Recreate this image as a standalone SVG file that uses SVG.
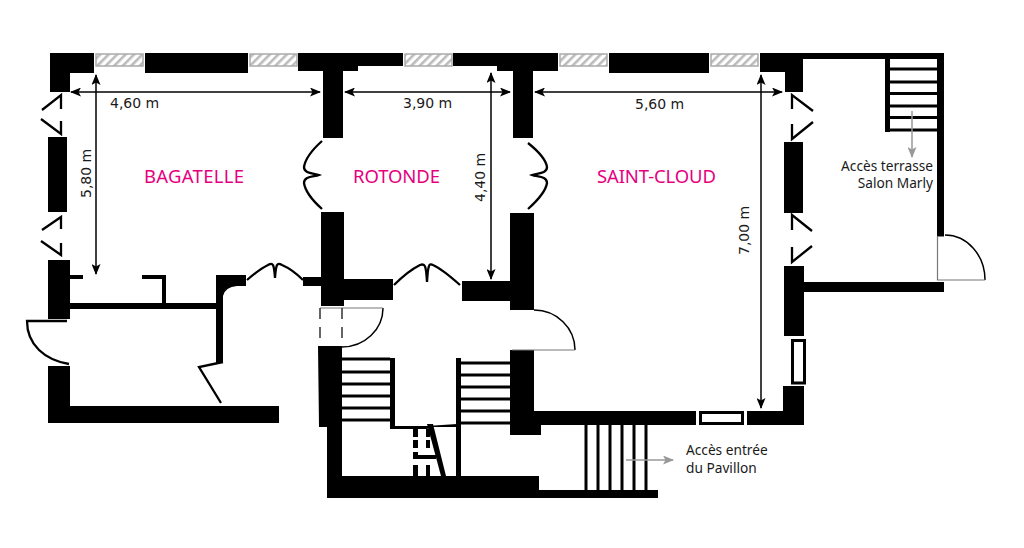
<svg xmlns="http://www.w3.org/2000/svg" width="1024" height="548" viewBox="0 0 1024 548">
<style>
.dim{font:14px "DejaVu Sans",sans-serif;fill:#1a1a1a}
.room{font:18.500px "Noto Sans",sans-serif;fill:#e6007e}
.note{font:13.700px "Noto Sans",sans-serif;fill:#1a1a1a}
.win{fill:url(#hatch);stroke:#aaa;stroke-width:1.5}
.box{fill:#fff;stroke:#000;stroke-width:3}
.ln{fill:none;stroke:#000;stroke-width:2.300}
.door{fill:none;stroke:#000;stroke-width:1.500}
.sill{fill:none;stroke:#777;stroke-width:1.200}
.d{fill:none;stroke:#000;stroke-width:1.500;marker-start:url(#a);marker-end:url(#a)}
.g{fill:none;stroke:#999;stroke-width:1.500;marker-end:url(#ga)}
</style>
<defs>
<pattern id="hatch" width="6" height="6" patternUnits="userSpaceOnUse" patternTransform="rotate(45)"><rect width="6" height="6" fill="#fff"/><rect width="2.600" height="6" fill="#bbb"/></pattern>
<marker id="a" viewBox="0 0 11 9" refX="10" refY="4.500" markerWidth="11" markerHeight="9" markerUnits="userSpaceOnUse" orient="auto-start-reverse"><path d="M11 4.500L0 0L2.500 4.500L0 9Z" fill="#000"/></marker>
<marker id="ga" viewBox="0 0 11 9" refX="10" refY="4.500" markerWidth="11" markerHeight="9" markerUnits="userSpaceOnUse" orient="auto"><path d="M11 4.500L0 0L2.500 4.500L0 9Z" fill="#999"/></marker>
</defs>
<rect width="1024" height="548" fill="#fff"/>
<g id="walls" fill="#000">
<path d="M50 53H94V73H70V92H50Z"/>
<rect x="145" y="53" width="103" height="20"/>
<path d="M298 53H403V66H358V71H343V138H323V71H298Z"/>
<path d="M453 53H558V71H533V138H513V71H497V66H453Z"/>
<rect x="609" y="53" width="100" height="20"/>
<path d="M760 53H944V236.500H937V59H803V92H785V72H760Z"/>
<rect x="48" y="137" width="19" height="75"/>
<path d="M48 260H70V275H83V279H70V303H162V279H142V275H166V303H216V275H246V286H237Q225 287 223 296V363H216V309H70V319H48Z"/>
<path d="M48 366H70V406H279V423H48Z"/>
<path d="M321 212H344V279H393V300H344V306H321V286H303V277H321Z"/>
<path d="M510 213H534V310H510V301H462V281H510Z"/>
<path d="M510 350H534V411H696V425H541V435H510Z"/>
<rect x="784" y="142" width="19" height="71"/>
<path d="M784 266H804V282H944V292H804V336H784Z"/>
<path d="M783 386H804V425H747V411H783Z"/>
<path d="M318 346H342V476H539V490H658V498H327V427H319Z"/>
<rect x="390" y="358" width="5" height="71"/>
<path d="M395 426H427L457 424V427H432L427 429H395Z"/>
<rect x="456" y="358" width="5" height="118"/>
<path d="M427 424H433L446 476H441Z"/>
<path d="M413 429H418V437H413ZM426 429H430V437H426ZM413 440H418V448H413ZM426 440H430V448H426ZM413 452H418V455H436V459H413ZM413 465H418V476H413ZM426 465H430V476H426Z"/>
</g>
<g id="stairs" fill="#000">
<path d="M342 357.500h48v3h-48zM342 370.500h48v3h-48zM342 382.500h48v3h-48zM342 394.500h48v3h-48zM342 406.500h48v3h-48zM342 418.500h48v3h-48z"/>
<path d="M461 361.500h49v3h-49zM461 373.500h49v3h-49zM461 385.500h49v3h-49zM461 397.500h49v3h-49zM461 409.500h49v3h-49zM461 421.500h49v3h-49z"/>
<path d="M885 59h5v73h-5zM890 67.500h47v3h-47zM890 80.500h47v3h-47zM890 92h47v3h-47zM890 104.500h47v3h-47zM890 116h47v3h-47zM890 128.500h47v3h-47z"/>
<path d="M584.500 425h3v65h-3zM596.500 425h3v65h-3zM608.500 425h3v65h-3zM620.500 425h3v65h-3zM632.500 425h3v65h-3zM644.500 425h3v65h-3z"/>
</g>
<g id="windows">
<rect class="win" x="96" y="54" width="47" height="12"/>
<rect class="win" x="250" y="54" width="47" height="12"/>
<rect class="win" x="405" y="54" width="47" height="12"/>
<rect class="win" x="560" y="54" width="47" height="12"/>
<rect class="win" x="711" y="54" width="47" height="12"/>
<rect class="box" x="792.500" y="340.500" width="12" height="42.500"/>
<rect class="box" x="700.500" y="412.500" width="42" height="11"/>
</g>
<g id="doors">
<path class="ln" d="M42 110L61 95V109M41 119L61 134V121M42 230L61 217V229M41 241L61 255V243"/>
<path class="ln" d="M813 111L792 95V109M813 122L792 139V124M812 231L792 215V230M812 246L792 262V247"/>
<path class="ln" d="M322 141C312 150 305 160 304 167C304 174 314 173 319 175C314 177 304 176 304 183C305 190 312 200 322 209"/>
<path class="ln" d="M528 143C538 151 546 160 547 167C547 174 537 173 532 175C537 177 547 176 547 183C546 190 538 200 528 209"/>
<path class="ln" d="M247 280C255 273 262 268 268 265C273 262 274 264 275 278C276 264 277 262 282 265C289 268 296 273 303 280"/>
<path class="ln" d="M394 285C402 277 412 269 420 265C425 263 426 265 427 282C428 265 429 263 433 265C442 269 451 277 460 285"/>
<path class="ln" d="M67 321H27C27 345 45 360 69 364"/>
<path class="ln" d="M223 362L199 367L221 403"/>
<path class="door" d="M342 347A41 39 0 0 0 383 308"/>
<path class="sill" d="M320 308H383"/>
<path class="door" stroke-dasharray="11 8" d="M320 308V339M342 308V339" style="stroke:#333"/>
<path class="door" d="M534 310A41 40 0 0 1 575 350"/>
<path class="sill" d="M512 350H575"/>
<path class="door" d="M945 235A40 45 0 0 1 985 280"/>
<path class="sill" d="M937.500 236V280H985"/>
</g>
<g id="connectors">
<path class="d" d="M71 92H320"/>
<path class="d" d="M345 92H510"/>
<path class="d" d="M535 92H782"/>
<path class="d" d="M96 75V274"/>
<path class="d" d="M491 73V279"/>
<path class="d" d="M761 75V408"/>
<path class="g" d="M912 111V157"/>
<path class="g" d="M626 460H673"/>
</g>
<g id="labels">
<text class="room" x="144" y="183" textLength="100">BAGATELLE</text>
<text class="room" x="353" y="183" textLength="87">ROTONDE</text>
<text class="room" x="597" y="183" textLength="119">SAINT-CLOUD</text>
<text class="dim" x="110" y="108">4,60 m</text>
<text class="dim" x="403" y="108">3,90 m</text>
<text class="dim" x="635" y="109">5,60 m</text>
<text class="dim" transform="translate(91 198) rotate(-90)">5,80 m</text>
<text class="dim" transform="translate(485 202) rotate(-90)">4,40 m</text>
<text class="dim" transform="translate(749 255) rotate(-90)">7,00 m</text>
<text class="note" x="933" y="171" text-anchor="end">Accès terrasse</text>
<text class="note" x="933" y="188" text-anchor="end">Salon Marly</text>
<text class="note" x="686" y="455">Accès entrée</text>
<text class="note" x="686" y="473">du Pavillon</text>
</g>
</svg>
